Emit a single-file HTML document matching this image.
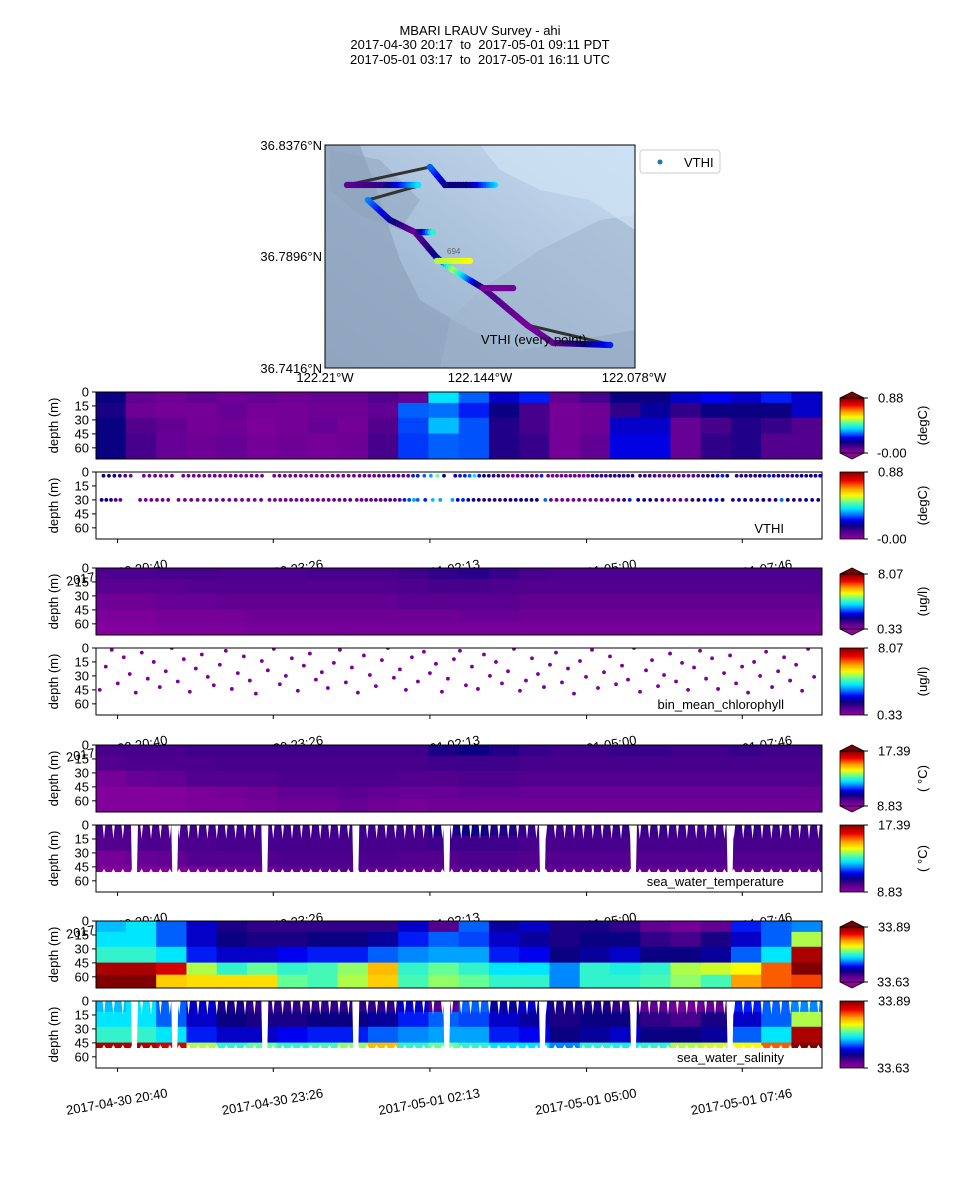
<!DOCTYPE html>
<html><head><meta charset="utf-8">
<style>
html,body{margin:0;padding:0;background:#fff;}
svg{display:block;font-family:"Liberation Sans","DejaVu Sans",sans-serif;}
</style></head>
<body>
<svg id="fig" width="960" height="1200" viewBox="0 0 960 1200" xmlns="http://www.w3.org/2000/svg">
<rect x="0" y="0" width="960" height="1200" fill="#fff"/>
<g font-size="13" text-anchor="middle" fill="#000" style="white-space:pre">
<text x="480" y="35">MBARI LRAUV Survey - ahi</text>
<text x="480" y="49">2017-04-30 20:17&#160; to&#160; 2017-05-01 09:11 PDT</text>
<text x="480" y="64">2017-05-01 03:17&#160; to&#160; 2017-05-01 16:11 UTC</text>
</g>
</svg>
<script>
// ---------- data ----------
const timeTickMinutes = [23, 189, 356, 523, 689];
const timeTickLabels = ['2017-04-30 20:40','2017-04-30 23:26','2017-05-01 02:13','2017-05-01 05:00','2017-05-01 07:46'];
const depthTicks = [0, 15, 30, 45, 60];
const gridRowDepths = [0, 12, 28, 45, 58, 72];

// VTHI contour (normalized 0..1 of 0..0.88), 24 columns x 5 rows
const vthiGrid = [
[0.2,0.18,0.2,0.2,0.2],[0.08,0.06,0.1,0.12,0.12],[0.06,0.05,0.08,0.07,0.07],[0.08,0.05,0.05,0.06,0.06],
[0.06,0.07,0.06,0.07,0.07],[0.07,0.05,0.04,0.05,0.05],[0.06,0.05,0.05,0.06,0.06],[0.07,0.06,0.07,0.05,0.05],
[0.07,0.06,0.05,0.06,0.06],[0.1,0.08,0.1,0.12,0.12],[0.08,0.35,0.33,0.32,0.32],[0.45,0.36,0.42,0.35,0.35],
[0.35,0.3,0.34,0.34,0.34],[0.25,0.2,0.17,0.17,0.17],[0.3,0.12,0.12,0.14,0.14],[0.08,0.05,0.05,0.05,0.05],
[0.12,0.06,0.06,0.08,0.08],[0.2,0.15,0.25,0.27,0.27],[0.2,0.22,0.25,0.27,0.27],[0.25,0.15,0.07,0.07,0.07],
[0.28,0.2,0.12,0.15,0.15],[0.25,0.2,0.17,0.17,0.17],[0.3,0.2,0.14,0.1,0.1],[0.25,0.25,0.1,0.1,0.1]];

// VTHI point samples
const vthiSegStart = [8,51,93,190,281,343,383,482,580,683, 6,47,88,185,278,343,380,479,578,679];
const vthiSegEnd   = [37,81,177,275,338,371,475,572,673,772, 26,77,176,271,339,367,470,569,668,770];
const vthiSegDepth = [4,4,4,4,4,4,4,4,4,4, 30,30,30,30,30,30,30,30,30,30];
const vthiSegValues = [
[0.2,0.2,0.2,0.15,0.1,0.05],
[0.05,0.06,0.05,0.05,0.06,0.05],
[0.07,0.06,0.05,0.06,0.05,0.06,0.07,0.05,0.06,0.05,0.06,0.05,0.06,0.05,0.06,0.05],
[0.05,0.06,0.05,0.05,0.06,0.05,0.06,0.05,0.05,0.06,0.05,0.06,0.05,0.06,0.05,0.06],
[0.07,0.08,0.06,0.07,0.1,0.08,0.1,0.12,0.09,0.1,0.07,0.3],
[0.3,0.35,0.4,0.55,0.2],
[0.25,0.3,0.3,0.35,0.45,0.25,0.2,0.18,0.15,0.15,0.12,0.1,0.05,0.08,0.1,0.12,0.1,0.08,0.3],
[0.05,0.05,0.06,0.05,0.06,0.05,0.05,0.06,0.05,0.08,0.15,0.16,0.15,0.14,0.16,0.15,0.17,0.15,0.16,0.17],
[0.16,0.15,0.14,0.1,0.08,0.08,0.07,0.08,0.1,0.08,0.07,0.1,0.12,0.15,0.17,0.2,0.25,0.3,0.2],
[0.16,0.15,0.17,0.15,0.16,0.2,0.17,0.3,0.16,0.2,0.17,0.15,0.16,0.25,0.2,0.17,0.2,0.22,0.25],
[0.2,0.2,0.18,0.1,0.06],
[0.06,0.05,0.06,0.05,0.06,0.05],
[0.06,0.05,0.06,0.05,0.05,0.06,0.05,0.06,0.05,0.06,0.05,0.06,0.05,0.06],
[0.05,0.06,0.05,0.05,0.06,0.05,0.06,0.05,0.05,0.06,0.05,0.06,0.05,0.06,0.08,0.1],
[0.06,0.07,0.08,0.06,0.07,0.08,0.1,0.12,0.1,0.09,0.3,0.33,0.4],
[0.35,0.3,0.42,0.4],
[0.4,0.25,0.3,0.25,0.2,0.18,0.16,0.15,0.16,0.15,0.18,0.2,0.25,0.2,0.18,0.2,0.22],
[0.35,0.05,0.06,0.05,0.06,0.05,0.05,0.06,0.05,0.05,0.08,0.06,0.05,0.1,0.15,0.3],
[0.2,0.25,0.2,0.15,0.16,0.05,0.1,0.08,0.06,0.15,0.2,0.18,0.25,0.28,0.2],
[0.16,0.18,0.2,0.15,0.17,0.2,0.16,0.18,0.35,0.2,0.17,0.16,0.2,0.22,0.2]];

// chlorophyll contour (0.33..8.07 normalized)
const chlGrid = [
[0.11,0.09,0.06,0.04,0.03],[0.11,0.09,0.06,0.04,0.03],[0.12,0.09,0.07,0.05,0.04],[0.12,0.1,0.07,0.05,0.04],
[0.11,0.1,0.08,0.05,0.04],[0.11,0.1,0.08,0.06,0.05],[0.11,0.1,0.08,0.06,0.05],[0.12,0.1,0.08,0.06,0.05],
[0.12,0.1,0.08,0.06,0.05],[0.12,0.1,0.08,0.06,0.05],[0.13,0.11,0.09,0.06,0.05],[0.15,0.12,0.09,0.06,0.05],
[0.16,0.12,0.09,0.07,0.05],[0.14,0.11,0.09,0.07,0.05],[0.12,0.1,0.08,0.06,0.05],[0.11,0.1,0.08,0.06,0.05],
[0.11,0.1,0.08,0.06,0.05],[0.11,0.1,0.08,0.06,0.05],[0.11,0.1,0.08,0.06,0.05],[0.11,0.1,0.08,0.06,0.05],
[0.11,0.1,0.08,0.06,0.05],[0.11,0.1,0.08,0.06,0.05],[0.11,0.1,0.08,0.06,0.05],[0.11,0.1,0.08,0.06,0.05]];
const chlStartMin = 4;
const chlStepMin = 6.4;
const chlDepths = [45,20,2,38,10,28,48,5,33,15,42,25,0,36,12,47,22,7,31,40,
18,3,44,27,9,35,49,14,24,1,39,30,11,46,19,6,34,26,43,16,
2,37,21,48,8,29,41,13,0,32,23,45,10,36,4,27,17,47,33,12,
3,40,20,44,7,30,15,38,25,1,46,35,11,28,42,18,5,37,22,49,
14,31,2,43,26,9,39,19,34,0,47,24,13,41,29,6,36,16,45,21,
3,33,11,44,27,8,38,20,48,15,30,4,42,25,10,35,18,46,1,31];

// temperature (8.83..17.39 normalized)
const tempGrid = [
[0.12,0.1,0.05,0.03,0.03],[0.12,0.11,0.07,0.03,0.03],[0.12,0.11,0.08,0.03,0.03],[0.13,0.11,0.1,0.04,0.04],
[0.13,0.12,0.1,0.05,0.04],[0.13,0.12,0.1,0.06,0.05],[0.13,0.12,0.11,0.08,0.06],[0.13,0.12,0.11,0.08,0.06],
[0.13,0.12,0.11,0.09,0.07],[0.13,0.12,0.11,0.08,0.06],[0.13,0.12,0.1,0.07,0.05],[0.18,0.13,0.1,0.07,0.06],
[0.2,0.13,0.11,0.08,0.06],[0.17,0.13,0.11,0.08,0.06],[0.14,0.12,0.1,0.07,0.06],[0.13,0.12,0.1,0.07,0.06],
[0.13,0.12,0.1,0.07,0.06],[0.14,0.12,0.1,0.07,0.06],[0.14,0.12,0.1,0.07,0.06],[0.13,0.12,0.1,0.07,0.06],
[0.13,0.12,0.1,0.07,0.06],[0.14,0.12,0.1,0.07,0.06],[0.13,0.12,0.1,0.07,0.06],[0.13,0.12,0.1,0.07,0.06]];

// salinity (33.63..33.89 normalized)
const salGrid = [
[0.42,0.45,0.5,0.95,1.0],[0.45,0.45,0.5,0.95,1.0],[0.35,0.35,0.45,0.9,0.7],[0.25,0.25,0.3,0.6,0.68],
[0.18,0.2,0.25,0.5,0.68],[0.15,0.18,0.25,0.55,0.68],[0.15,0.18,0.28,0.5,0.55],[0.15,0.2,0.3,0.52,0.52],
[0.15,0.2,0.3,0.58,0.6],[0.15,0.22,0.35,0.72,0.7],[0.25,0.3,0.38,0.5,0.52],[0.1,0.35,0.4,0.55,0.58],
[0.35,0.33,0.4,0.5,0.55],[0.22,0.25,0.3,0.45,0.5],[0.25,0.22,0.28,0.45,0.5],[0.18,0.18,0.2,0.38,0.38],
[0.18,0.2,0.22,0.5,0.5],[0.15,0.2,0.25,0.48,0.5],[0.08,0.15,0.2,0.5,0.52],[0.05,0.12,0.2,0.6,0.58],
[0.08,0.18,0.22,0.62,0.52],[0.3,0.25,0.35,0.65,0.75],[0.35,0.35,0.45,0.8,0.8],[0.38,0.6,0.95,1.0,0.82]];

// profile-gap times (minutes) for yo-yo panels
const profileGapMin = [41, 84, 180, 277, 374, 476, 573, 676];

// colorbar limits
const cbarMax = ['0.88','0.88','8.07','8.07','17.39','17.39','33.89','33.89'];
const cbarMin = ['-0.00','-0.00','0.33','0.33','8.83','8.83','33.63','33.63'];
const cbarUnits = ['(degC)','(degC)','(ug/l)','(ug/l)','( °C)','( °C)','',''];

// map track (lon/lat waypoints + values)
const trackLons = [
[-122.1376,-122.1500,-122.1589,-122.1653],
[-122.2006,-122.1850,-122.1704],
[-122.1917,-122.1823,-122.1717,-122.1623,-122.1555,-122.1427,-122.1240,-122.1129,-122.0886],
[-122.1717,-122.1640],
[-122.1623,-122.1483],
[-122.1427,-122.1299]];
const trackLats = [
[36.8204,36.8204,36.8204,36.8281],
[36.8204,36.8204,36.8204],
[36.8139,36.8053,36.8001,36.7890,36.7838,36.7760,36.7601,36.7524,36.7515],
[36.8001,36.8001],
[36.7877,36.7877],
[36.7760,36.7760]];
const trackVals = [
[0.45,0.2,0.2,0.35],
[0.08,0.15,0.45],
[0.38,0.22,0.06,0.22,0.6,0.12,0.05,0.07,0.3],
[0.05,0.5],
[0.6,0.65],
[0.05,0.05]];

// ---------- helpers ----------
const NS = 'http://www.w3.org/2000/svg';
const svg = document.getElementById('fig');
function el(tag, attrs, parent){ const e=document.createElementNS(NS,tag); for(const k in attrs) e.setAttribute(k,attrs[k]); (parent||svg).appendChild(e); return e; }
const stops=[[0,[150,0,160]],[0.12,[70,0,140]],[0.2,[10,0,130]],[0.28,[0,0,240]],[0.36,[0,110,255]],[0.45,[0,230,255]],[0.55,[100,255,150]],[0.65,[250,250,0]],[0.75,[255,160,0]],[0.87,[240,0,0]],[1,[128,0,0]]];
function cmap(t){ t=Math.max(0,Math.min(1,t)); for(let i=1;i<stops.length;i++){ if(t<=stops[i][0]){ const a=stops[i-1],b=stops[i]; const f=(t-a[0])/(b[0]-a[0]); const c=a[1].map((v,j)=>Math.round(v+(b[1][j]-v)*f)); return 'rgb('+c.join(',')+')'; } } return 'rgb(128,0,0)'; }

const X0=96, X1=822, TMAX=774, PH=67, DMAX=72;
const panelTops=[392,472,568,648,745,825,921,1001];
function xScale(m){ return X0 + m*(X1-X0)/TMAX; }
function yScale(top,d){ return top + d*PH/DMAX; }

// defs
const defs = el('defs',{});
const lg = el('linearGradient',{id:'cbgrad',x1:'0',y1:'1',x2:'0',y2:'0'},defs);
stops.forEach(s=>el('stop',{offset:s[0],'stop-color':cmap(s[0])},lg));
const mg = el('linearGradient',{id:'mapgrad',x1:'0',y1:'1',x2:'1',y2:'0'},defs);
el('stop',{offset:0,'stop-color':'#93a9c2'},mg); el('stop',{offset:0.45,'stop-color':'#a9c0da'},mg); el('stop',{offset:1,'stop-color':'#c8def2'},mg);
panelTops.forEach((t,i)=>{ const cp=el('clipPath',{id:'clip'+i},defs); el('rect',{x:X0,y:t,width:X1-X0,height:PH},cp); });
const mcp=el('clipPath',{id:'mapclip'},defs); el('rect',{x:325,y:145,width:310,height:223},mcp);

// ---------- map ----------
const mapG = el('g',{});


el('rect',{x:325,y:145,width:310,height:223,fill:'url(#mapgrad)'},mapG);
const bathy = el('g',{'clip-path':'url(#mapclip)'},mapG);


el('path',{d:'M325 145 L360 145 L380 200 L400 260 L420 300 L470 330 L520 350 L635 330 L635 368 L325 368 Z',fill:'#8fa4bd',opacity:'0.75'},bathy);
el('path',{d:'M440 368 L450 320 L480 290 L540 250 L600 220 L635 215 L635 368 Z',fill:'#9fb4cc',opacity:'0.55'},bathy);
el('path',{d:'M480 145 L635 145 L635 230 L590 200 L540 190 L500 170 Z',fill:'#cfe2f4',opacity:'0.7'},bathy);
el('path',{d:'M330 150 L380 160 L420 200 L400 230 L360 215 L330 190 Z',fill:'#8ea3bb',opacity:'0.5'},bathy);
const lonToX = lon => 325 + (lon+122.21)/0.132*310;
const latToY = lat => 145 + (36.8376-lat)/0.096*223;
[[430,167,347,185],[418,186,368,200],[415,232,433,232],[470,261,437,260],[513,288,483,288],[527,325,612,345]].forEach(s=>{
  const l=el('line',{x1:s[0],y1:s[1],x2:s[2],y2:s[3],stroke:'#333',"stroke-width":3},mapG);
  
  
});
trackLons.forEach((lons,ti)=>{
  const lats=trackLats[ti], vals=trackVals[ti];
  for(let i=0;i<lons.length-1;i++){
    const xa=lonToX(lons[i]), ya=latToY(lats[i]), xb=lonToX(lons[i+1]), yb=latToY(lats[i+1]);
    const n=Math.max(2,Math.round(Math.hypot(xb-xa,yb-ya)/2.5));
    for(let k=0;k<=n;k++){ const f=k/n;
      const c=el('circle',{cx:xa+(xb-xa)*f,cy:ya+(yb-ya)*f,r:3.2,fill:cmap(vals[i]+(vals[i+1]-vals[i])*f)},mapG);
      
      
    }
  }
});
el('rect',{x:325,y:145,width:310,height:223,fill:'none',stroke:'#000','stroke-width':1},mapG);
const t694=el('text',{x:447,y:254,'font-size':8,fill:'#666'},mapG); t694.textContent='694';


const tev=el('text',{x:481,y:344,'font-size':13,fill:'#000'},mapG); tev.textContent='VTHI (every point)';


[['36.8376°N',150],['36.7896°N',261],['36.7416°N',373]].forEach(a=>{
  const t=el('text',{x:322,y:a[1],'font-size':13,'text-anchor':'end',fill:'#000'},mapG); t.textContent=a[0];
  
  
});
[['122.21°W',325],['122.144°W',480],['122.078°W',634]].forEach(a=>{
  const t=el('text',{x:a[1],y:382,'font-size':13,'text-anchor':'middle',fill:'#000'},mapG); t.textContent=a[0];
  
  
});
const leg=el('g',{},mapG);


el('rect',{x:640,y:150,width:80,height:23,rx:3,fill:'#fff',stroke:'#ccc'},leg);
el('circle',{cx:660,cy:162,r:2.5,fill:'#1f77b4'},leg);
const lt=el('text',{x:684,y:167,'font-size':13,fill:'#000'},leg); lt.textContent='VTHI';

// ---------- panels ----------
function drawTimeLabels(y){
  timeTickMinutes.forEach((m,i)=>{
    const x=xScale(m);
    const t=el('text',{x:x,y:y,'font-size':13,'text-anchor':'middle',fill:'#000',transform:'rotate(-10 '+x+' '+y+')'});
    t.textContent=timeTickLabels[i];
    
    
  });
}
function drawGrid(g,top,grid,maxDepth){
  const cw=TMAX/grid.length;
  grid.forEach((col,ci)=>{
    col.forEach((v,ri)=>{
      const d0=gridRowDepths[ri], d1=Math.min(gridRowDepths[ri+1],maxDepth);
      if(d0>=maxDepth) return;
      const r=el('rect',{x:xScale(ci*cw)-0.3,y:yScale(top,d0)-0.3,width:xScale(cw)-X0+0.8,height:yScale(top,d1)-yScale(top,d0)+0.8,fill:cmap(v)},g);
      
      
    });
  });
}
function drawProfileGaps(g,top){
  for(let x=X0+8;x<X1;x+=9.4){
    el('path',{d:'M'+(x-1.4)+' '+top+' L'+(x+1.4)+' '+top+' L'+x+' '+(top+14)+' Z',fill:'#fff'},g);
    el('path',{d:'M'+(x-2)+' '+(yScale(top,50)+1)+' L'+(x+2)+' '+(yScale(top,50)+1)+' L'+x+' '+(yScale(top,47))+' Z',fill:'#fff'},g);
  }
  profileGapMin.forEach(m=>{
    const x=xScale(m);
    const r=el('path',{d:'M'+(x-3.5)+' '+top+' L'+(x+3.5)+' '+top+' L'+(x+2.5)+' '+yScale(top,52)+' L'+(x-2.5)+' '+yScale(top,52)+' Z',fill:'#fff'},g);
    
    
  });
}
function drawAxes(i,label){
  const top=panelTops[i];
  const ax=el('g',{});
  
  
  el('rect',{x:X0,y:top,width:X1-X0,height:PH,fill:'none',stroke:'#000','stroke-width':1},ax);
  depthTicks.forEach(d=>{
    const y=yScale(top,d);
    el('line',{x1:X0-4,y1:y,x2:X0,y2:y,stroke:'#000'},ax);
    const t=el('text',{x:X0-7,y:y+4.5,'font-size':13,'text-anchor':'end',fill:'#000'},ax); t.textContent=d;
    
    
  });
  if(i%2===1){ timeTickMinutes.forEach(m=>{ const x=xScale(m); el('line',{x1:x,y1:top+PH,x2:x,y2:top+PH+4,stroke:'#000'},ax); }); }
  const yl=el('text',{x:58,y:top+PH/2,'font-size':13,'text-anchor':'middle',fill:'#000',transform:'rotate(-90 58 '+(top+PH/2)+')'},ax);
  yl.textContent='depth (m)';
  
  
  if(label){
    const t=el('text',{x:784,y:top+PH-6,'font-size':13,'text-anchor':'end',fill:'#000'},ax); t.textContent=label;
    
    
  }
  const cb=el('g',{});
  
  
  const contour = i%2===0;
  const cy0 = contour? top+6 : top, cy1 = contour? top+PH-6 : top+PH;
  el('rect',{x:840,y:cy0,width:24,height:cy1-cy0,fill:'url(#cbgrad)'},cb);
  if(contour){
    el('path',{d:'M840 '+cy0+' L852 '+(cy0-6)+' L864 '+cy0+' Z',fill:cmap(1),stroke:'#000','stroke-width':0.8},cb);
    el('path',{d:'M840 '+cy1+' L852 '+(cy1+6)+' L864 '+cy1+' Z',fill:cmap(0),stroke:'#000','stroke-width':0.8},cb);
  }
  el('rect',{x:840,y:cy0,width:24,height:cy1-cy0,fill:'none',stroke:'#000','stroke-width':0.8},cb);
  el('line',{x1:864,y1:cy0,x2:868,y2:cy0,stroke:'#000'},cb);
  el('line',{x1:864,y1:cy1,x2:868,y2:cy1,stroke:'#000'},cb);
  const mx=el('text',{x:878,y:cy0+4.5,'font-size':13,fill:'#000'},cb); mx.textContent=cbarMax[i];
  const mn=el('text',{x:877,y:cy1+4.5,'font-size':13,fill:'#000'},cb); mn.textContent=cbarMin[i];
  if(cbarUnits[i]){
    const u=el('text',{x:927,y:top+PH/2,'font-size':13,'text-anchor':'middle',fill:'#000',transform:'rotate(-90 927 '+(top+PH/2)+')'},cb);
    u.textContent=cbarUnits[i];
    
    
  }
}

const grids=[vthiGrid,null,chlGrid,null,tempGrid,tempGrid,salGrid,salGrid];
const labels=[null,'VTHI',null,'bin_mean_chlorophyll',null,'sea_water_temperature',null,'sea_water_salinity'];
for(let i=0;i<8;i++){
  const top=panelTops[i];
  if(i%2===1) drawTimeLabels(top+PH+38);
  el('rect',{x:X0,y:top,width:X1-X0,height:PH,fill:'#fff'});
  const g=el('g',{'clip-path':'url(#clip'+i+')'});
  
  
  if(i===0||i===2||i===4||i===6){ drawGrid(g,top,grids[i],DMAX); }
  else if(i===5||i===7){ drawGrid(g,top,grids[i],50); drawProfileGaps(g,top); }
  else if(i===1){
    vthiSegValues.forEach((vals,s)=>{
      const a=vthiSegStart[s], b=vthiSegEnd[s];
      vals.forEach((v,k)=>{
        const m=a+(b-a)*(vals.length>1?k/(vals.length-1):0);
        const c=el('circle',{cx:xScale(m),cy:yScale(top,vthiSegDepth[s]),r:1.9,fill:cmap(v)},g);
        
        
      });
    });
  } else if(i===3){
    chlDepths.forEach((d,k)=>{
      const c=el('circle',{cx:xScale(chlStartMin+k*chlStepMin),cy:yScale(top,d),r:1.9,fill:cmap(0.04)},g);
      
      
    });
  }
  drawAxes(i,labels[i]);
}
</script>
</body></html>
